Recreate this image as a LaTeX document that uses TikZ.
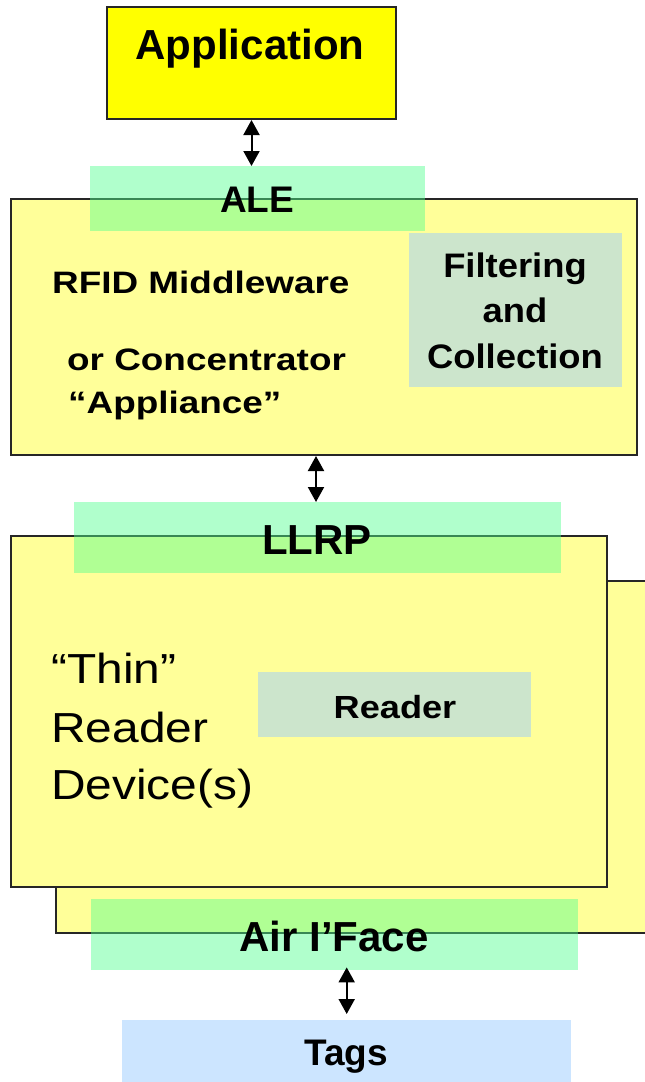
\documentclass[tikz,border=0pt]{standalone}
\usepackage{fontspec}
\setmainfont{Liberation Sans}
\usetikzlibrary{arrows.meta}
\definecolor{appyellow}{HTML}{FFFF00}
\definecolor{paleyellow}{HTML}{FFFF99}
\definecolor{sage}{HTML}{CCE5CC}
\definecolor{tagblue}{HTML}{CCE5FF}
\definecolor{bandgreen}{RGB}{80,255,142}
\newcommand\fsz[1]{\fontsize{#1}{#1}\selectfont}
\newcommand\wide[2]{\scalebox{#1}[1]{#2}}

\begin{document}
\begin{tikzpicture}[x=1pt,y=-1pt,
  frame/.style={draw=black!85, line width=2pt, inner sep=0pt, anchor=north west},
  panel/.style={inner sep=0pt, anchor=north west},
  band/.style={fill=bandgreen, fill opacity=0.45, inner sep=0pt, anchor=north west},
  txt/.style={inner sep=0pt, anchor=base},
  txtl/.style={inner sep=0pt, anchor=base west},
  link/.style={line width=2pt, {Triangle[width=16pt,length=15pt]}-{Triangle[width=16pt,length=15pt]}}
]
\useasboundingbox (0,0) rectangle (645,1082);
\clip (0,0) rectangle (645,1082);

% application layer
\node[frame, fill=appyellow, minimum width=289pt, minimum height=112pt] (app) at (106,6) {};
\node[txt, font=\bfseries\fsz{42}] (apptext) at (250,59) {Application};

% middleware / concentrator
\node[frame, fill=paleyellow, minimum width=626pt, minimum height=256pt] (mw) at (10,198) {};
\node[band, minimum width=335pt, minimum height=65pt] (ale) at (90,166) {};
\node[txt, font=\bfseries\fsz{37}] (aletext) at (257,212) {ALE};
\node[panel, fill=sage, minimum width=213pt, minimum height=154pt] (filt) at (409,233) {};
\node[txt, font=\bfseries\fsz{34}] (filt1) at (515,277) {\wide{1.07}{Filtering}};
\node[txt, font=\bfseries\fsz{34}] (filt2) at (515,322) {\wide{1.07}{and}};
\node[txt, font=\bfseries\fsz{34}] (filt3) at (515,368) {\wide{1.07}{Collection}};
\node[txtl, font=\bfseries\fsz{31}] (mw1) at (52,293) {\wide{1.19}{RFID Middleware}};
\node[txtl, font=\bfseries\fsz{31}] (mw2) at (67,370) {\wide{1.19}{or Concentrator}};
\node[txtl, font=\bfseries\fsz{31}] (mw3) at (68,413) {\wide{1.19}{“Appliance”}};

% reader devices (stacked)
\node[frame, fill=paleyellow, minimum width=610pt, minimum height=352pt] (back) at (55,580) {};
\node[frame, fill=paleyellow, minimum width=596pt, minimum height=351pt] (front) at (10,535) {};
\node[band, minimum width=487pt, minimum height=71pt] (llrp) at (74,502) {};
\node[txt, font=\bfseries\fsz{42}] (llrptext) at (317,554) {LLRP};
\node[txtl, font=\fsz{42}] (thin1) at (51,683) {\wide{1.14}{“Thin”}};
\node[txtl, font=\fsz{42}] (thin2) at (51,742) {\wide{1.14}{Reader}};
\node[txtl, font=\fsz{42}] (thin3) at (51,799) {\wide{1.14}{Device(s)}};
\node[panel, fill=sage, minimum width=273pt, minimum height=65pt] (rdr) at (258,672) {};
\node[txt, font=\bfseries\fsz{32}] (rdrtext) at (395,718) {\wide{1.13}{Reader}};
\node[band, minimum width=487pt, minimum height=71pt] (air) at (91,899) {};
\node[txt, font=\bfseries\fsz{42}] (airtext) at (334,951) {Air I’Face};

% tags
\node[panel, fill=tagblue, minimum width=449pt, minimum height=70pt] (tags) at (122,1020) {};
\node[txt, font=\bfseries\fsz{37}] (tagstext) at (346,1065) {Tags};

% interfaces
\draw[link] (app.south) -- (app.south |- ale.north);
\draw[link] ([xshift=-8pt]mw.south) -- ([xshift=-8pt]mw.south |- llrp.north);
\draw[link, shorten <=-3pt, shorten >=6pt] (tags.north |- air.south) -- (tags.north);
\end{tikzpicture}
\end{document}
